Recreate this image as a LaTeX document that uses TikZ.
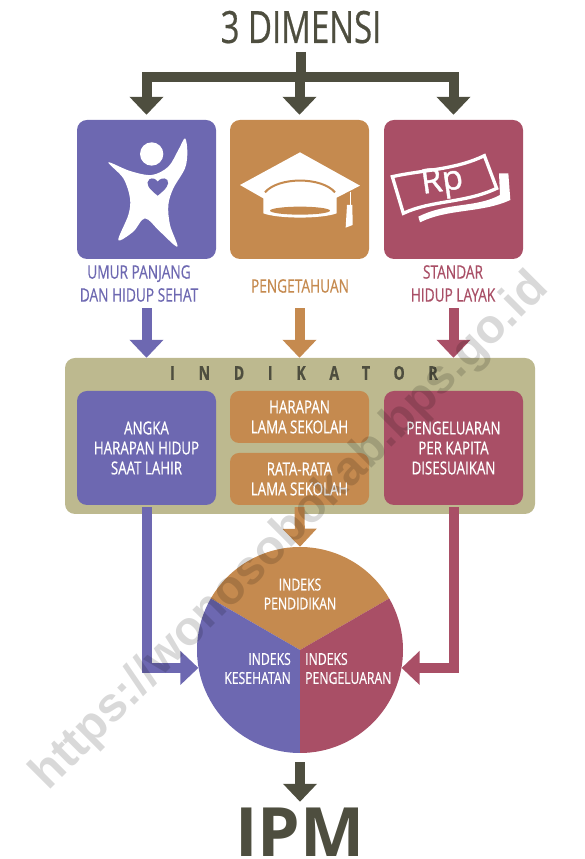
\documentclass[tikz,border=0pt]{standalone}
\usepackage{fontspec}
\setmainfont[FakeStretch=0.74,FakeBold=0.5]{Open Sans}
\newfontfamily\plainfont{Open Sans}
\newfontfamily\rpfont[FakeBold=1.2]{Open Sans}
\newfontfamily\markfont{Liberation Sans}
\usetikzlibrary{arrows.meta}

\definecolor{dim}{HTML}{4E4E3F}
\definecolor{umur}{HTML}{6D68B1}
\definecolor{didik}{HTML}{C58A4F}
\definecolor{layak}{HTML}{A94F66}
\definecolor{indik}{HTML}{BDB98F}

\tikzset{
	tile/.style={rounded corners=10pt,minimum width=139pt,inner sep=0pt,text=white,align=center,
		font=\fontsize{18}{20}\selectfont},
	caption/.style={align=center,font=\fontsize{18.5}{23}\selectfont},
	pielabel/.style={text=white,inner sep=0pt,font=\fontsize{16.5}{19}\selectfont},
	bigline/.style={line width=10pt},
	bigarrow/.style={line width=10pt,-{Triangle[width=33pt,length=18pt]}}
}

\begin{document}
\begin{tikzpicture}[x=1pt,y=1pt]
	\useasboundingbox (0,0) rectangle (584,859);

	\node[anchor=base,text=dim,inner sep=0pt,font=\fontsize{44.5}{44.5}\selectfont] (title) at (301,816) {3 DIMENSI};

	% top row
	\node[tile,fill=umur,minimum height=139pt] (boxU) at (146.5,669.5) {};
	\node[tile,fill=didik,minimum height=139pt] (boxD) at (299.5,669.5) {};
	\node[tile,fill=layak,minimum height=139pt] (boxL) at (453.5,669.5) {};

	\node[caption,text=umur] (capU) at (139,575.5) {UMUR PANJANG\\DAN HIDUP SEHAT};
	\node[caption,text=didik] (capD) at (300,573) {PENGETAHUAN};
	\node[caption,text=layak] (capL) at (453,575.5) {STANDAR\\HIDUP LAYAK};

	% indikator
	\node[rounded corners=10pt,fill=indik,minimum width=470pt,minimum height=156pt,inner sep=0pt] (panel) at (300,423) {};
	\node[text=dim,inner sep=0pt,font=\bfseries\fontsize{19}{19}\selectfont\addfontfeature{LetterSpace=125}] (panelname) at (304,486) {INDIKATOR};
	\node[tile,fill=umur,minimum height=114pt] (angka) at (146.5,411) {ANGKA\\HARAPAN HIDUP\\SAAT LAHIR};
	\node[tile,fill=didik,minimum height=52pt,rounded corners=9pt] (harapan) at (299.5,442) {HARAPAN\\LAMA SEKOLAH};
	\node[tile,fill=didik,minimum height=52pt,rounded corners=9pt] (rata) at (299.5,380) {RATA-RATA\\LAMA SEKOLAH};
	\node[tile,fill=layak,minimum height=114pt] (kapita) at (453.5,411) {PENGELUARAN\\PER KAPITA\\DISESUAIKAN};

	% pie
	\coordinate (mid) at (300,209);
	\fill[didik] (mid) -- ++(30:103) arc (30:150:103) -- cycle;
	\fill[umur] (mid) -- ++(150:103) arc (150:270:103) -- cycle;
	\fill[layak] (mid) -- ++(270:103) arc (270:390:103) -- cycle;
	\node[circle,minimum size=206pt,inner sep=0pt] (pie) at (mid) {};
	\node[pielabel,align=center] (ipend) at (300,265) {INDEKS\\PENDIDIKAN};
	\node[pielabel,align=right,anchor=east] (ikes) at (291,190.5) {INDEKS\\KESEHATAN};
	\node[pielabel,align=left,anchor=west] (ipeng) at (305,190.5) {INDEKS\\PENGELUARAN};

	\node[anchor=base,text=dim,inner sep=0pt,font=\plainfont\bfseries\fontsize{68}{68}\selectfont] (ipm) at (300,2.5) {IPM};

	% connectors
	\coordinate (trunktop) at (300.5,807);
	\coordinate (trunk) at (300.5,781.5);
	\draw[bigline,dim] (trunktop) -- (trunk);
	\draw[bigarrow,dim,shorten >=5pt] (trunk) -| (boxU.north);
	\draw[bigarrow,dim,shorten >=5pt] (trunk) -- (trunk -| boxD.north) -- (boxD.north);
	\draw[bigarrow,dim,shorten >=5pt] (trunk) -| (boxL.north);

	\draw[bigarrow,umur,shorten <=3pt] (boxU |- capU.south) -- (boxU |- panel.north);
	\draw[bigarrow,didik,shorten <=3pt] (boxD |- capU.south) -- (boxD |- panel.north);
	\draw[bigarrow,layak,shorten <=3pt] (boxL |- capL.south) -- (boxL |- panel.north);

	\draw[bigarrow,umur,shorten <=2pt] (angka.south) |- (pie.190);
	\draw[bigarrow,didik,shorten <=2pt] (rata.south) -- (pie.north);
	\draw[bigarrow,layak,shorten <=2pt] (kapita.south) |- (pie.350);
	\draw[bigarrow,dim,shorten <=9pt,shorten >=6pt] (pie.south) -- (ipm.north);

	% person
	\begin{scope}[shift={(90,734)},xscale=1/3,yscale=-1/3]
		\fill[white] (185,87) circle (35);
		\fill[white] plot[smooth cycle,tension=.55] coordinates {(55,112) (120,138) (185,150) (235,125) (265,75) (285,40)
			(292,80) (285,130) (250,190) (235,240) (240,300) (262,365) (210,320) (165,280) (130,320) (85,345)
			(115,270) (120,220) (100,160)};
		\fill[umur] (203,212) .. controls (175,190) and (165,175) .. (178,163) .. controls (188,157) and (198,162) .. (203,170)
			.. controls (208,162) and (222,155) .. (232,165) .. controls (240,178) and (228,192) .. (203,212) -- cycle;
	\end{scope}

	% cap
	\begin{scope}[shift={(235,714)},xscale=1/3,yscale=-1/3]
		\fill[white] (15,120) -- (195,22) -- (375,122) -- (305,158) -- (305,205) .. controls (260,222) and (130,222) .. (85,205) -- (85,160) -- cycle;
		\draw[didik,line width=2pt] (90,142) .. controls (130,95) and (260,95) .. (300,142);
		\fill[didik] (195,197) ellipse (90 and 12);
		\draw[white,line width=1pt] (345,140) -- (345,182);
		\fill[white] (336,180) -- (352,180) -- (353,240) -- (332,248) -- cycle;
	\end{scope}

	% money
	\begin{scope}[shift={(385,714)},xscale=1/3,yscale=-1/3]
		\fill[white] (100,215) .. controls (190,170) and (270,190) .. (345,150) -- (342,85) -- (370,85) -- (376,165) .. controls (290,205) and (190,190) .. (105,232) -- cycle;
		\draw[white,line width=3.3pt] (22,95) .. controls (110,75) and (210,75) .. (298,32) -- (335,130) .. controls (240,175) and (140,165) .. (55,205) -- cycle;
		\node[text=white,inner sep=0pt,rotate=8,font=\rpfont\fontsize{34}{34}\selectfont] (rp) at (172,114) {Rp};
	\end{scope}

	\node[rotate=45,text=black,text opacity=.15,inner sep=0pt,font=\markfont\bfseries\fontsize{48}{48}\selectfont] (watermark) at (290.6,327.4) {https://wonosobokab.bps.go.id};
\end{tikzpicture}
\end{document}
